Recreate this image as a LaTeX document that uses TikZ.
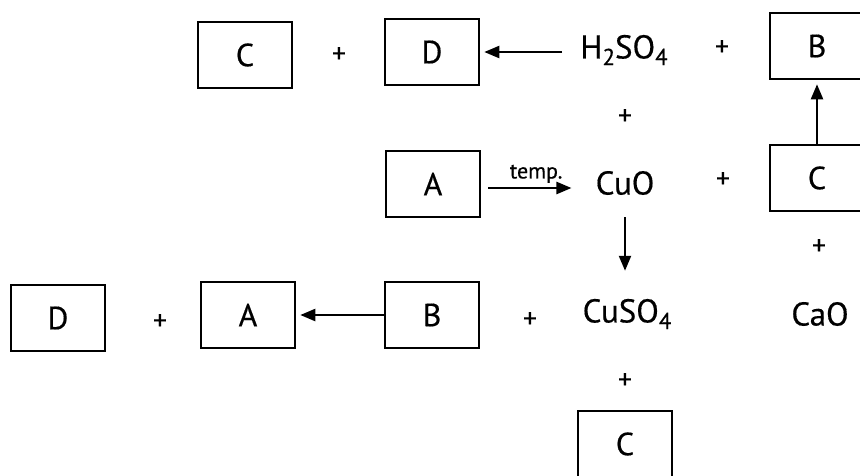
\documentclass[tikz,border=0pt]{standalone}
\usepackage{fontspec}
\setmainfont{PT Sans}[FakeBold=0.4]
\usetikzlibrary{arrows.meta}
% lowered subscript for formulas
\newcommand\chsub[1]{\raisebox{-0.2em}{\fontsize{23}{25}\selectfont #1}}
\begin{document}
\begin{tikzpicture}[x=1pt,y=-1pt,
  sub/.style={draw, line width=2.6pt, minimum width=94pt, minimum height=66pt,
    inner sep=0pt, font=\fontsize{32}{34}\selectfont},
  chem/.style={inner sep=0pt, font=\fontsize{33}{35}\selectfont},
  plus/.style={inner sep=0pt, font=\fontsize{28}{30}\selectfont},
  rx/.style={-{Triangle[length=15pt,width=12pt]}, line width=2.3pt},
  cond/.style={inner sep=0pt, font=\fontsize{22}{24}\selectfont}]
\useasboundingbox (0,0) rectangle (860,475);
\clip (0,0) rectangle (860,475);

% top row: C + D <- H2SO4 + B
\node[sub] (c1) at (245,55) {C};
\node[plus] (p1) at (339,55) {+};
\node[sub] (d1) at (432,52) {D};
\node[chem] (h2so4) at (624,50) {H\chsub{2}SO\chsub{4}};
\node[plus] (p2) at (722,48) {+};
\node[sub] (b1) at (817,46) {B};

\node[plus] (p3) at (625,117) {+};

% middle row: A -> CuO + C
\node[sub] (a1) at (433,184) {A};
\node[chem] (cuo) at (625,183) {CuO};
\node[plus] (p4) at (723,180) {+};
\node[sub] (c2) at (817,178) {C};
\node[plus] (p5) at (819,247) {+};
\node[chem] (cao) at (820,314) {CaO};

% bottom row: D + A <- B + CuSO4
\node[sub] (d2) at (58,318) {D};
\node[plus] (p6) at (160,322) {+};
\node[sub] (a2) at (248,315) {A};
\node[sub] (b2) at (432,315) {B};
\node[plus] (p7) at (530,320) {+};
\node[chem] (cuso4) at (627,314) {CuSO\chsub{4}};
\node[plus] (p8) at (625,381) {+};
\node[sub] (c3) at (625,444) {C};

% reaction arrows
\draw[rx, shorten <=18pt, shorten >=4pt] (h2so4.west |- d1.east) -- (d1.east);
\draw[rx, shorten <=7pt, shorten >=24pt] (a1.east |- 0,188) -- (cuo.west |- 0,188)
  node[cond, pos=0.48, above=4pt] {temp.};
\draw[rx, shorten >=4pt] (c2.north) -- (b1.south -| c2.north);
\draw[rx, shorten <=22pt, shorten >=28pt] (cuo.south -| 625,0) -- (cuso4.north -| 625,0);
\draw[rx, shorten >=4pt] (b2.west) -- (a2.east);
\end{tikzpicture}
\end{document}
